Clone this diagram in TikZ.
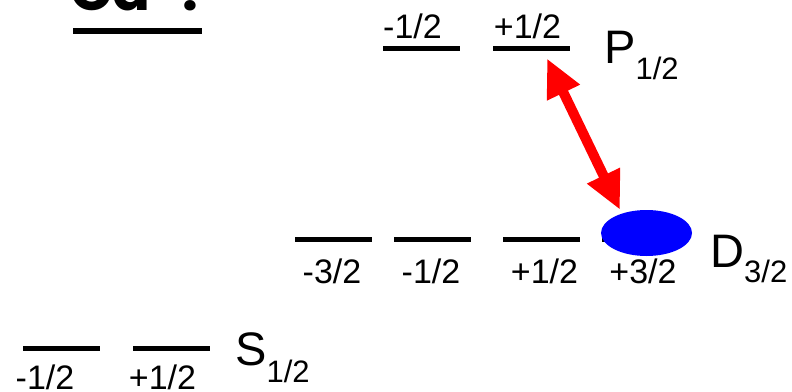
\documentclass[tikz,border=0pt]{standalone}
\usepackage{fontspec}
\setmainfont{Liberation Sans}
\newfontfamily\cafont{Poppins}
\usetikzlibrary{arrows.meta,calc,shapes.geometric}
\begin{document}
\begin{tikzpicture}[x=1pt,y=-1pt,
  lvl/.style={fill=black,inner sep=0pt,minimum width=77pt,minimum height=5.5pt},
  num/.style={font=\fontsize{34}{34}\selectfont,inner sep=0pt,anchor=base},
  term/.style={font=\fontsize{47}{47}\selectfont,inner sep=0pt,anchor=base west},
  trans/.style={draw=red,line width=10pt,{Triangle[length=38pt,width=34pt]}-{Triangle[length=38pt,width=34pt]}}]
\useasboundingbox (0,0) rectangle (792,391);
\clip (0,0) rectangle (792,391);
% title
\node[font=\cafont\bfseries\fontsize{56}{56}\selectfont,inner sep=0pt,anchor=base west] (ca) at (70,10) {Ca\raisebox{70pt}{+}\hspace{-4pt}:};
\fill (73,28) rectangle (202,33.5);
% P levels
\node[lvl] (p1) at (421,48.5) {};
\node[lvl] (p2) at (531,48.5) {};
\node[num] (pl1) at (412.5,38) {-1/2};
\node[num] (pl2) at (527.5,38) {+1/2};
\node[term] (pt) at (604,63) {P\raisebox{-16pt}{\fontsize{31}{31}\selectfont 1/2}};
% D levels
\node[lvl] (d1) at (333.5,239.5) {};
\node[lvl] (d2) at (432.5,239.5) {};
\node[lvl] (d3) at (541.5,239.5) {};
\node[lvl] (d4) at (640.5,239.5) {};
\node[ellipse,fill=blue,inner sep=0pt,minimum width=91pt,minimum height=46pt] (ion) at (646.5,233) {};
\node[num] (dl1) at (332,283) {-3/2};
\node[num] (dl2) at (431,283) {-1/2};
\node[num] (dl3) at (544.5,283) {+1/2};
\node[num] (dl4) at (643,283) {+3/2};
\node[term] (dt) at (710,267) {D\raisebox{-15pt}{\fontsize{31}{31}\selectfont 3/2}};
% S levels
\node[lvl] (s1) at (61.5,348.5) {};
\node[lvl] (s2) at (171.5,348.5) {};
\node[num] (sl1) at (45,389.5) {-1/2};
\node[num] (sl2) at (162.5,389.5) {+1/2};
\node[term] (st) at (235,365) {S\raisebox{-17pt}{\fontsize{31}{31}\selectfont 1/2}};
% transition
\coordinate (ptip) at ($(p2.south)+(16,7)$);
\coordinate (dtip) at ($(ion.north)+(-26.5,0)$);
\draw[trans] (ptip) -- (dtip);
\end{tikzpicture}
\end{document}
